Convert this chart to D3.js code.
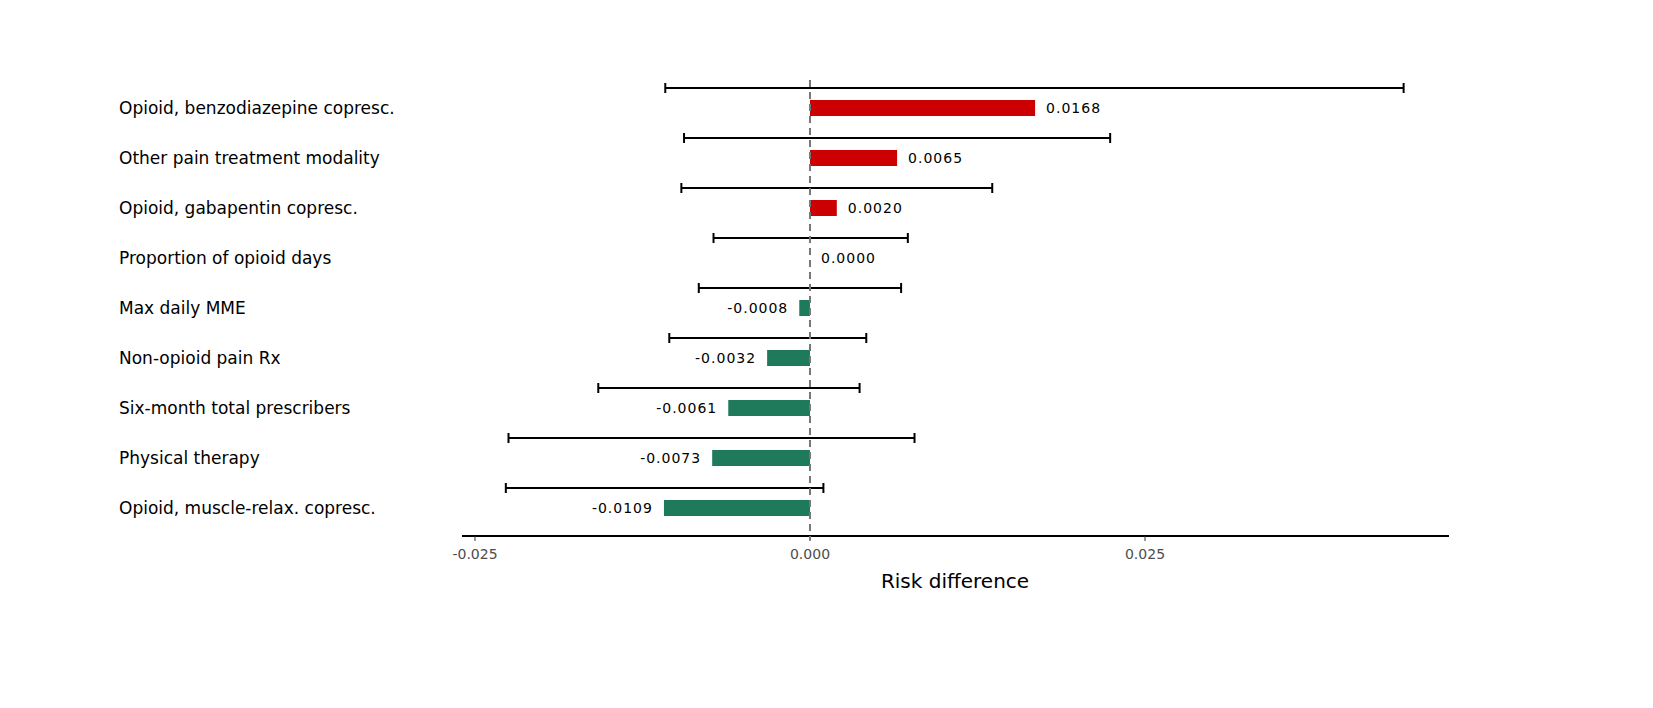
<!DOCTYPE html>
<html><head><meta charset="utf-8">
<script src="https://cdn.jsdelivr.net/npm/d3@7"></script>
<style>body{margin:0;background:#fff}text{font-family:"DejaVu Sans",sans-serif}</style>
</head><body><svg id="c" width="1653" height="708"></svg>
<script>
var labels = ["Opioid, benzodiazepine copresc.","Other pain treatment modality","Opioid, gabapentin copresc.","Proportion of opioid days","Max daily MME","Non-opioid pain Rx","Six-month total prescribers","Physical therapy","Opioid, muscle-relax. copresc."]
var estimates = [0.0168,0.0065,0.0020,0.0000,-0.0008,-0.0032,-0.0061,-0.0073,-0.0109]
var lower = [-0.0108,-0.0094,-0.0096,-0.0072,-0.0083,-0.0105,-0.0158,-0.0225,-0.0227]
var upper = [0.0443,0.0224,0.0136,0.0073,0.0068,0.0042,0.0037,0.0078,0.0010]
var ticks = [-0.025,0,0.025]

var fmt = function(f){ return function(v){ return d3.format(f)(v).replace("\u2212","-") } }

var svg = d3.select("#c")
var x = d3.scaleLinear().domain([-0.025,0.025]).range([475,1145])
var y = d3.scaleBand().domain(labels).range([83,533]).padding(0)

svg.append("line").attr("x1",462).attr("x2",1449).attr("y1",536).attr("y2",536).attr("stroke","#000").attr("stroke-width",2)
ticks.forEach(function(t){
  svg.append("line").attr("x1",x(t)).attr("x2",x(t)).attr("y1",536).attr("y2",541).attr("stroke","#333")
  svg.append("text").attr("x",x(t)).attr("y",559).attr("text-anchor","middle").attr("font-size",14).attr("fill","#4d4d4d").text(fmt(".3f")(t))
})
svg.append("text").attr("x",955).attr("y",588).attr("text-anchor","middle").attr("font-size",20).text("Risk difference")

labels.forEach(function(l,i){
  var cy = y(l)+y.bandwidth()/2
  svg.append("text").attr("x",119).attr("y",cy+6).attr("font-size",17).text(l)
  var v = estimates[i]
  svg.append("rect").attr("x",x(Math.min(0,v))).attr("width",Math.abs(x(v)-x(0))).attr("y",cy-8).attr("height",16)
    .attr("fill", v>0 ? "#cc0000" : "#1e7a5a")
  var cyl = cy-20
  svg.append("line").attr("x1",x(lower[i])).attr("x2",x(upper[i])).attr("y1",cyl).attr("y2",cyl).attr("stroke","#000").attr("stroke-width",2)
  ;[lower[i],upper[i]].forEach(function(e){
    svg.append("line").attr("x1",x(e)).attr("x2",x(e)).attr("y1",cyl-5).attr("y2",cyl+5).attr("stroke","#000").attr("stroke-width",2)
  })
  svg.append("text").attr("x", v>=0 ? x(v)+11 : x(v)-11).attr("y",cy+5).attr("font-size",14)
    .attr("letter-spacing",1).attr("text-anchor", v>=0 ? "start" : "end").text(fmt(".4f")(v))
})
svg.append("line").attr("x1",x(0)).attr("x2",x(0)).attr("y1",80).attr("y2",540).attr("stroke","#777").attr("stroke-width",2).attr("stroke-dasharray","7,5")
</script></body></html>
